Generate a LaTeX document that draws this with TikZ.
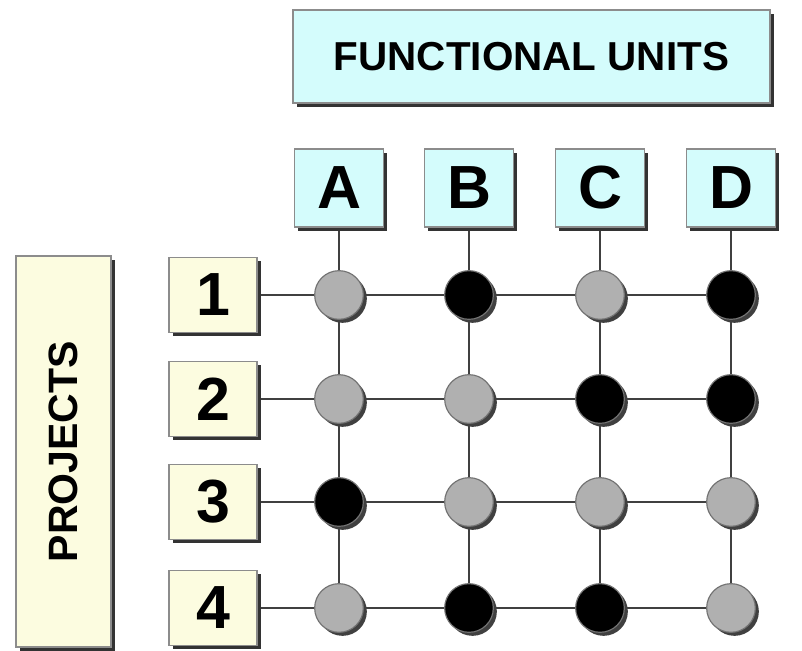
\documentclass[tikz,border=0pt]{standalone}
\usepackage{fontspec}
\setmainfont{Liberation Sans}
\usetikzlibrary{shadows,backgrounds}
\definecolor{unitcyan}{HTML}{D4FCFC}
\definecolor{projyellow}{HTML}{FCFCE0}
\tikzset{
  shade box/.style={draw=black!45, line width=1pt, inner sep=0pt,
    drop shadow={shadow xshift=3pt, shadow yshift=-3pt, fill=black!80, opacity=1}},
  unit box/.style={shade box, fill=unitcyan},
  project box/.style={shade box, fill=projyellow},
  task/.style={circle, minimum size=1.46cm, inner sep=0pt, draw=black!55, line width=1pt,
    drop shadow={shadow xshift=3pt, shadow yshift=-3pt, fill=black!75, opacity=1}},
  light/.style={task, fill=black!31},
  dark/.style={task, fill=black},
  link/.style={black!75, line width=2.2pt}
}

\begin{document}
\begin{tikzpicture}[x=0.03cm, y=-0.03cm]
  \useasboundingbox (0,0) rectangle (802,651);
  % heads
  \node[unit box, minimum width=14.31cm, minimum height=2.79cm,
        font=\bfseries\fontsize{34.5}{40}\selectfont] (units) at (531.5,56.5) {FUNCTIONAL UNITS};
  \foreach \c/\x in {A/339,B/469,C/600,D/731}
    \node[unit box, minimum width=2.67cm, minimum height=2.34cm,
          font=\bfseries\fontsize{52}{60}\selectfont] (col\c) at (\x,188) {\c};
  \node[project box, minimum width=2.85cm, minimum height=11.73cm,
        font=\bfseries\fontsize{35}{40}\selectfont] (projects) at (63.5,451.5) {\rotatebox{90}{PROJECTS}};
  \foreach \r/\y in {1/295,2/399,3/502,4/608}
    \node[project box, minimum width=2.64cm, minimum height=2.25cm,
          font=\bfseries\fontsize{52}{60}\selectfont] (proj\r) at (213,\y) {\r};
  % matrix
  \foreach \r/\y/\ka/\kb/\kc/\kd in {1/295/light/dark/light/dark, 2/399/light/light/dark/dark,
                                     3/502/dark/light/light/light, 4/608/light/dark/dark/light} {
    \node[\ka] (A\r) at (339,\y) {};
    \node[\kb] (B\r) at (469,\y) {};
    \node[\kc] (C\r) at (600,\y) {};
    \node[\kd] (D\r) at (731,\y) {};
  }
  \begin{scope}[on background layer]
    \foreach \c in {A,B,C,D} \draw[link] (col\c) -- (\c1) -- (\c2) -- (\c3) -- (\c4);
    \foreach \r in {1,...,4} \draw[link] (proj\r) -- (A\r) -- (B\r) -- (C\r) -- (D\r);
  \end{scope}
\end{tikzpicture}
\end{document}
